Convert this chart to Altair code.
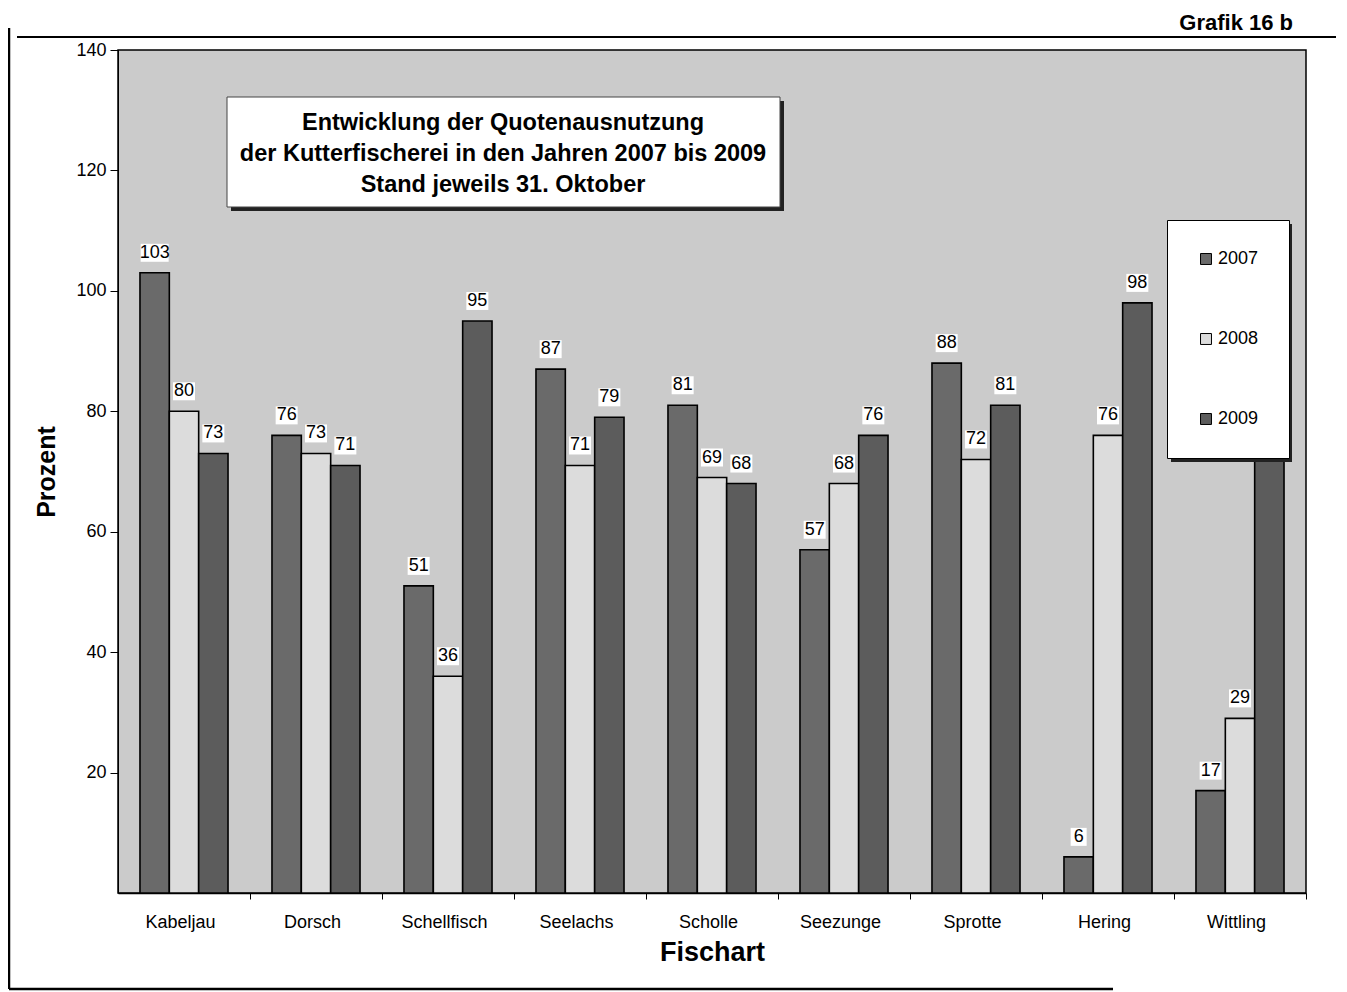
import altair as alt
import pandas as pd

categories = ["Kabeljau", "Dorsch", "Schellfisch", "Seelachs", "Scholle",
              "Seezunge", "Sprotte", "Hering", "Wittling"]
years = ["2007", "2008", "2009"]
v2007 = [103, 76, 51, 87, 81, 57, 88, 6, 17]
v2008 = [80, 73, 36, 71, 69, 68, 72, 76, 29]
v2009 = [73, 71, 95, 79, 68, 76, 81, 98, 85]  # Wittling 2009 hidden behind legend (estimate)
y_ticks = [20, 40, 60, 80, 100, 120, 140]
title_lines = ["Entwicklung der Quotenausnutzung",
               "der Kutterfischerei in den Jahren 2007 bis 2009",
               "Stand jeweils 31. Oktober"]

rows = []
for yr, vals in zip(years, [v2007, v2008, v2009]):
    for c, v in zip(categories, vals):
        w = 1.1 + 0.3 * (len(str(v)) - 2)
        rows.append({"Fischart": c, "Jahr": yr, "Prozent": v,
                     "box": f"M{-w},-0.9H{w}V0.9H{-w}Z"})
df = pd.DataFrame(rows)

FONT = "Liberation Sans"
W, H = 1188, 843
STEP = W / 9

x_enc = alt.X("Fischart:N", sort=categories,
              scale=alt.Scale(paddingInner=0.333, paddingOuter=0.1665),
              axis=alt.Axis(title="Fischart", labelAngle=0,
                            tickOffset=STEP / 2, labelOffset=-STEP / 2 - 4,
                            labelFontSize=18, labelPadding=14, tickSize=6,
                            titleFontSize=27, titleFontWeight="bold", titlePadding=8,
                            labelColor="black", titleColor="black",
                            domainColor="black", tickColor="black", domainWidth=1.5))
y_enc = alt.Y("Prozent:Q", scale=alt.Scale(domain=[0, 140], nice=False),
              axis=alt.Axis(title="Prozent", values=y_ticks, grid=False,
                            labelFontSize=18, labelPadding=4, tickSize=8,
                            titleFontSize=25, titleFontWeight="bold", titlePadding=16,
                            labelColor="black", titleColor="black",
                            domainColor="black", tickColor="black"))
xo = alt.XOffset("Jahr:N", sort=years, scale=alt.Scale(paddingInner=0, paddingOuter=0))

base = alt.Chart(df)

bars = base.mark_bar(stroke="black", strokeWidth=1.6, opacity=1).encode(
    x=x_enc, xOffset=xo, y=y_enc,
    color=alt.Color("Jahr:N", sort=years,
                    scale=alt.Scale(domain=years, range=["#6a6a6a", "#dcdcdc", "#5c5c5c"]),
                    legend=alt.Legend(orient="none", legendX=1049, legendY=170,
                                      title=None, fillColor="white", strokeColor="black",
                                      padding=30, rowPadding=62, symbolType="square",
                                      symbolSize=120, symbolStrokeColor="black",
                                      symbolStrokeWidth=1, labelFontSize=18,
                                      labelFont=FONT, labelColor="black",
                                      labelOffset=3, zindex=2))
)

boxes = base.mark_point(filled=True, fill="white", opacity=1, size=400,
                        strokeWidth=0, yOffset=-20).encode(
    x=alt.X("Fischart:N", sort=categories), xOffset=xo, y="Prozent:Q",
    shape=alt.Shape("box:N", scale=None)
)

labels = base.mark_text(dy=-20, fontSize=18, font=FONT, color="black",
                        baseline="middle").encode(
    x=alt.X("Fischart:N", sort=categories), xOffset=xo, y="Prozent:Q",
    text="Prozent:Q"
)

one = alt.Data(values=[{"k": 0}])

def rect(x, x2, y, y2, fill, stroke=None, sw=0):
    kw = {"fill": fill}
    if stroke:
        kw.update(stroke=stroke, strokeWidth=sw)
    return alt.Chart(one).mark_rect(**kw).encode(
        x=alt.value(x), x2=alt.value(x2), y=alt.value(y), y2=alt.value(y2))

def rule(x, x2, y, y2, sw):
    return alt.Chart(one).mark_rule(color="black", strokeWidth=sw).encode(
        x=alt.value(x), x2=alt.value(x2), y=alt.value(y), y2=alt.value(y2))

title_shadow = rect(113, 666, 51, 161, "#222222")
title_box = rect(109, 662, 47, 157, "white", "#444444", 1)
title_texts = [
    alt.Chart(one).mark_text(text=t, fontSize=23.5, fontWeight="bold", font=FONT,
                             color="black", align="center", baseline="middle").encode(
        x=alt.value(385), y=alt.value(yy))
    for t, yy in zip(title_lines, [73, 104, 135])
]

legend_shadow = rect(1053, 1174, 174, 412, "#222222")

grafik = alt.Chart(one).mark_text(text="Grafik 16 b", fontSize=22, fontWeight="bold",
                                  font=FONT, color="black", align="right",
                                  baseline="bottom").encode(
    x=alt.value(1175), y=alt.value(-15))
top_line = rule(-101, 1222, -13, -13, 2)
left_line = rule(-109, -109, -22, 939, 2.5)
bottom_line = rule(-109, 995, 939, 939, 2.5)

chart = alt.layer(
    bars, boxes, labels, title_shadow, title_box, *title_texts, legend_shadow,
    grafik, top_line, left_line, bottom_line
).properties(
    width=W, height=H,
    autosize=alt.AutoSizeParams(type="none"),
    padding={"left": 110, "top": 42, "right": 30, "bottom": 100},
    background="white",
).configure_view(
    fill="#cbcbcb", stroke="black", strokeWidth=1.5
).configure_axis(
    labelFont=FONT, titleFont=FONT
)

chart.save("out.html", embed_options={"renderer": "svg", "actions": False})
